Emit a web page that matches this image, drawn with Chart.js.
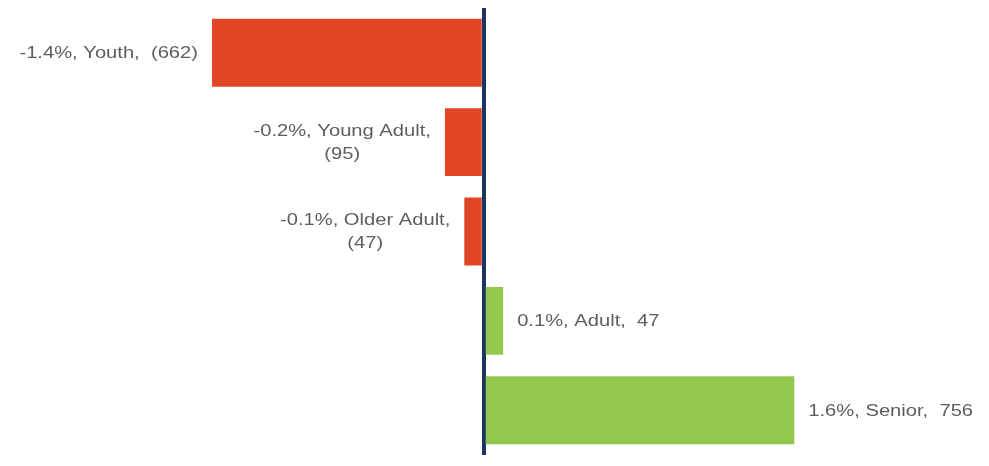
<!DOCTYPE html>
<html>
<head>
<meta charset="utf-8">
<script src="https://cdn.jsdelivr.net/npm/chart.js@4.4.1/dist/chart.umd.min.js"></script>
<style>
  html, body { margin: 0; padding: 0; background: #fff; }
  #wrap { width: 989px; height: 466px; }
</style>
</head>
<body>
<div id="wrap"><canvas id="ageChart"></canvas></div>
<script>
const categories = ["Youth", "Young Adult", "Older Adult", "Adult", "Senior"];
const changePct = [-1.4, -0.2, -0.1, 0.1, 1.6];
const counts = [662, 95, 47, 47, 756];
// Young Adult and Older Adult labels wrap onto two lines
const wrapLabel = [false, true, true, false, false];

const red = '#E04526';
const green = '#92C84D';

function labelLines(i) {
  const v = changePct[i];
  const n = v < 0 ? `(${counts[i]})` : `${counts[i]}`;
  const head = `${v.toFixed(1)}%, ${categories[i]},`;
  return wrapLabel[i] ? [head, n] : [`${head}  ${n}`];
}

// the source labels are a bit wide, so stretch them horizontally
const stretch = 1.26;

const barLabels = {
  id: 'barLabels',
  afterDatasetsDraw(chart) {
    const ctx = chart.ctx;
    const meta = chart.getDatasetMeta(0);
    ctx.save();
    ctx.font = '16px "Liberation Sans", Arial, sans-serif';
    ctx.fillStyle = '#5e5e5e';
    ctx.textBaseline = 'middle';
    ctx.textAlign = 'center';
    meta.data.forEach((bar, i) => {
      const lines = labelLines(i);
      const blockW = Math.max(...lines.map(l => ctx.measureText(l).width)) * stretch;
      const lh = 23;
      const y0 = bar.y + 1 - (lines.length - 1) * lh / 2;
      const neg = changePct[i] < 0;
      const left = neg ? bar.x - 14 - blockW : bar.x + 14;
      lines.forEach((l, k) => {
        ctx.save();
        ctx.translate(left + blockW / 2, y0 + k * lh);
        ctx.scale(stretch, 1);
        ctx.fillText(l, 0, 0);
        ctx.restore();
      });
    });
    ctx.restore();
  }
};

new Chart(document.getElementById('ageChart'), {
  type: 'bar',
  data: {
    labels: categories,
    datasets: [{
      data: changePct,
      backgroundColor: changePct.map(v => v < 0 ? red : green),
      categoryPercentage: 0.76,
      barPercentage: 1.0
    }]
  },
  options: {
    indexAxis: 'y',
    responsive: true,
    maintainAspectRatio: false,
    animation: false,
    layout: {
      padding: { left: 14, right: 20, top: 8, bottom: 11 }
    },
    plugins: {
      legend: { display: false },
      tooltip: { enabled: false }
    },
    scales: {
      x: {
        min: -2.42,
        max: 2.5,
        z: 1,
        afterBuildTicks: axis => { axis.ticks = [{ value: 0 }]; },
        ticks: { display: false },
        border: { display: false },
        grid: {
          color: '#1B3560',
          lineWidth: 4,
          drawTicks: false
        }
      },
      y: {
        display: false
      }
    }
  },
  plugins: [barLabels]
});
</script>
</body>
</html>
